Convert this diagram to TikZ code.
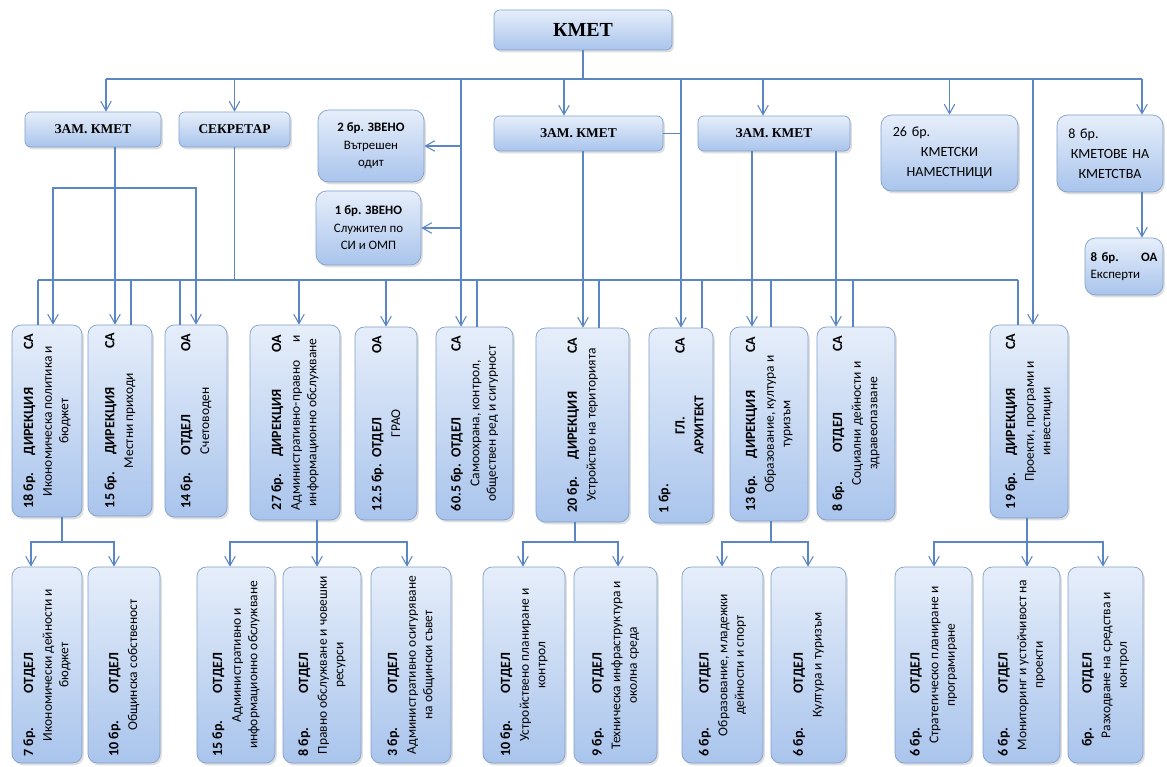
\documentclass[tikz,border=0pt]{standalone}
\usepackage{fontspec}
\usepackage{graphicx}
\setmainfont{Carlito}
\newfontfamily\hdfont{Liberation Serif}
\usetikzlibrary{arrows.meta, shadows}

\definecolor{boxtop}{HTML}{E6EEFA}
\definecolor{boxbot}{HTML}{A9C4EC}
\definecolor{boxedge}{HTML}{819FCB}
\definecolor{wireblue}{HTML}{5A86C4}

\newcommand{\rotlab}[3][5.25cm]{%
  \rotatebox{90}{\parbox{#1}{\fontsize{11.5}{14}\selectfont
    {\fontsize{12}{14}\selectfont\bfseries\parfillskip=0pt #2\par}\vspace{2pt}%
    {\centering #3\par}}}}

\tikzset{
  boxsize/.style 2 args={minimum width=#1*0.03cm, minimum height=#2*0.03cm},
  box/.style={draw=boxedge, line width=0.6pt, rounded corners=7pt,
    top color=boxtop, bottom color=boxbot, inner sep=0pt,
    drop shadow={shadow xshift=1.5pt, shadow yshift=-2pt, opacity=0.25}},
  headbox/.style={box, rounded corners=5pt,
    font=\hdfont\bfseries\fontsize{11.5}{14}\selectfont},
  infobox/.style={box, rounded corners=9pt, align=center,
    font=\fontsize{11}{15}\selectfont},
  unitbox/.style={box, rounded corners=8pt},
  wire/.style={draw=wireblue, line width=0.9pt},
  arr/.style={wire, -{Straight Barb[length=8pt,width=9pt]}}
}

\begin{document}
\begin{tikzpicture}[x=0.03cm, y=-0.03cm]
\fill[white] (0,0) rectangle (1167,767);
\useasboundingbox (0,0) rectangle (1167,767);

\node[headbox, boxsize={178}{40}, font=\hdfont\bfseries\fontsize{17}{20}\selectfont] (kmet) at (583,30) {КМЕТ};
\node[headbox, boxsize={136}{35}] (zamA) at (93,129.5) {ЗАМ. КМЕТ};
\node[headbox, boxsize={111}{35}] (sekr) at (234.5,129.5) {СЕКРЕТАР};
\node[headbox, boxsize={169}{35}] (zamB) at (578.5,133.5) {ЗАМ. КМЕТ};
\node[headbox, boxsize={152}{35}] (zamC) at (774,133.5) {ЗАМ. КМЕТ};

\node[infobox, boxsize={106}{72}] (zveno2) at (371,146) {\textbf{2 бр. ЗВЕНО}\\Вътрешен\\одит};
\node[infobox, boxsize={105}{74}] (zveno1) at (368.5,228) {\textbf{1 бр. ЗВЕНО}\\Служител по\\СИ и ОМП};
\node[infobox, boxsize={137}{76}, font=\fontsize{12}{17}\selectfont, text width=3.4cm] (namest) at (949.5,153)
  {\makebox[3.4cm][l]{26 бр.}\\КМЕТСКИ\\НАМЕСТНИЦИ};
\node[infobox, boxsize={106}{77}, font=\fontsize{12}{17}\selectfont, text width=2.5cm] (kmetove) at (1110,153.5)
  {\makebox[2.5cm][l]{8 бр.}\\КМЕТОВЕ НА\\КМЕТСТВА};
\node[infobox, boxsize={78}{57}, align=left, text width=2cm] (eksp) at (1124,266.5)
  {\makebox[2cm][l]{\textbf{8 бр.}\hfill\textbf{ОА}}\\Експерти};

\node[unitbox, boxsize={70}{192}] (dir18) at (47,421)
  {\rotlab{\makebox[1.6cm][l]{18 бр.}ДИРЕКЦИЯ\hfill СА}{Икономическа политика и\\бюджет}};
\node[unitbox, boxsize={64}{191}] (dir15) at (120,420.5)
  {\rotlab{\makebox[1.6cm][l]{15 бр.}ДИРЕКЦИЯ\hfill СА}{Местни приходи}};
\node[unitbox, boxsize={62}{192}] (otd14) at (196,421)
  {\rotlab{\makebox[1.6cm][l]{14 бр.}ОТДЕЛ\hfill ОА}{Счетоводен}};
\node[unitbox, boxsize={90}{195}] (dir27) at (295,422.5)
  {\rotlab{\makebox[1.6cm][l]{27 бр.}ДИРЕКЦИЯ\hfill ОА}{\makebox[\hsize]{Административно-правно\hfill и}\\информационно обслужване}};
\node[unitbox, boxsize={62}{193}] (otd125) at (386,423.5)
  {\rotlab{\makebox[1.6cm][l]{12.5 бр.}ОТДЕЛ\hfill ОА}{ГРАО}};
\node[unitbox, boxsize={77}{193}] (otd605) at (474.5,423.5)
  {\rotlab{\makebox[1.6cm][l]{60.5 бр.}ОТДЕЛ\hfill СА}{Самоохрана, контрол,\\обществен ред и сигурност}};
\node[unitbox, boxsize={93}{194}] (dir20) at (582.5,425)
  {\rotlab{\makebox[1.6cm][l]{20 бр.}ДИРЕКЦИЯ\hfill СА}{Устройство на територията}};
\node[unitbox, boxsize={64}{195}] (arh) at (681,425.5)
  {\rotlab{\rlap{1 бр.}\hfill ГЛ.\hfill\llap{СА}}{\textbf{АРХИТЕКТ}}};
\node[unitbox, boxsize={78}{194}] (dir13) at (769,424)
  {\rotlab{\makebox[1.6cm][l]{13 бр.}ДИРЕКЦИЯ\hfill СА}{Образование, култура и\\туризъм}};
\node[unitbox, boxsize={78}{193}] (otd8) at (856,423.5)
  {\rotlab{\makebox[1.75cm][l]{8 бр.}ОТДЕЛ\hfill СА}{Социални дейности и\\здравеопазване}};
\node[unitbox, boxsize={78}{193}] (dir19) at (1029,421.5)
  {\rotlab{\makebox[1.6cm][l]{19 бр.}ДИРЕКЦИЯ\hfill СА}{Проекти, програми и\\инвестиции}};

\node[unitbox, boxsize={70}{196}] (bot1) at (47,665)
  {\rotlab[5.5cm]{\makebox[1.9cm][l]{7 бр.}ОТДЕЛ\hfill}{Икономически дейности и\\бюджет}};
\node[unitbox, boxsize={72}{196}] (bot2) at (124,665)
  {\rotlab[5.5cm]{\makebox[1.9cm][l]{10 бр.}ОТДЕЛ\hfill}{Общинска собственост}};
\node[unitbox, boxsize={78}{196}] (bot3) at (236,665)
  {\rotlab[5.5cm]{\makebox[1.9cm][l]{15 бр.}ОТДЕЛ\hfill}{Административно и\\информационно обслужване}};
\node[unitbox, boxsize={78}{196}] (bot4) at (322,665)
  {\rotlab[5.5cm]{\makebox[1.9cm][l]{8 бр.}ОТДЕЛ\hfill}{Правно обслужване и човешки\\ресурси}};
\node[unitbox, boxsize={80}{196}] (bot5) at (411,665)
  {\rotlab[5.5cm]{\makebox[1.9cm][l]{3 бр.}ОТДЕЛ\hfill}{Административно осигуряване\\на общински съвет}};
\node[unitbox, boxsize={82}{196}] (bot6) at (524,665)
  {\rotlab[5.5cm]{\makebox[1.9cm][l]{10 бр.}ОТДЕЛ\hfill}{Устройствено планиране и\\контрол}};
\node[unitbox, boxsize={83}{196}] (bot7) at (615.5,665)
  {\rotlab[5.5cm]{\makebox[1.9cm][l]{9 бр.}ОТДЕЛ\hfill}{Техническа инфраструктура и\\околна среда}};
\node[unitbox, boxsize={81}{196}] (bot8) at (722.5,665)
  {\rotlab[5.5cm]{\makebox[1.9cm][l]{6 бр.}ОТДЕЛ\hfill}{Образование, младежки\\дейности и спорт}};
\node[unitbox, boxsize={75}{196}] (bot9) at (808.5,665)
  {\rotlab[5.5cm]{\makebox[1.9cm][l]{6 бр.}ОТДЕЛ\hfill}{Култура и туризъм}};
\node[unitbox, boxsize={77}{196}] (bot10) at (933.5,665)
  {\rotlab[5.5cm]{\makebox[1.9cm][l]{6 бр.}ОТДЕЛ\hfill}{Стратегическо планиране и\\програмиране}};
\node[unitbox, boxsize={77}{196}] (bot11) at (1021.5,665)
  {\rotlab[5.5cm]{\makebox[1.9cm][l]{6 бр.}ОТДЕЛ\hfill}{Мониторинг и устойчивост на\\проекти}};
\node[unitbox, boxsize={75}{196}] (bot12) at (1105.5,665)
  {\rotlab[5.5cm]{\makebox[1.9cm][l]{\hspace{0.3cm}бр.}ОТДЕЛ\hfill}{Разходване на средства и\\контрол}};

\coordinate (tl) at (106,79);
\coordinate (tr) at (1142,79);
\coordinate (tc) at (461,79);
\coordinate (td) at (564,79);
\coordinate (tf) at (763,79);
\coordinate (th) at (1033,79);
\draw[wire] (kmet.south) -- (kmet.south |- tl);
\draw[wire] (tl) -- (tr);
\draw[arr] (tl) -- (tl |- zamA.north);
\draw[arr] (sekr.north |- tl) -- (sekr.north);
\draw[arr] (tc) -- (tc |- otd605.north);
\draw[arr] (tc |- zveno2.east) -- (zveno2.east);
\draw[arr] (tc |- zveno1.east) -- (zveno1.east);
\draw[arr] (td) -- (td |- zamB.north);
\draw[arr] (arh.north |- tl) -- (arh.north);
\draw[wire] (zamB.east) -- (zamB.east -| arh.north);
\draw[arr] (tf) -- (tf |- zamC.north);
\draw[arr] (namest.north |- tl) -- (namest.north);
\draw[arr] (th) -- (th |- dir19.north);
\draw[arr] (tr) -- (tr |- kmetove.north);
\draw[arr] (tr |- kmetove.south) -- (tr |- eksp.north);

\coordinate (za) at (115,188);
\draw[arr] (za |- zamA.south) -- (za |- dir15.north);
\draw[arr] (za) -| (53,0 |- dir18.north);
\draw[arr] (za) -| (196,0 |- otd14.north);

\coordinate (sl) at (38,280);
\coordinate (sr) at (1018,280);
\draw[wire] (sekr.south) -- (sekr.south |- sl);
\draw[wire] (sl) -- (sr);
\draw[wire] (sl) -- (sl |- dir18.north);
\draw[wire] (131,0 |- sl) -- (131,0 |- dir15.north);
\draw[wire] (180,0 |- sl) -- (180,0 |- otd14.north);
\draw[arr] (299,0 |- sl) -- (299,0 |- dir27.north);
\draw[arr] (otd125.north |- sl) -- (otd125.north);
\draw[wire] (477,0 |- sl) -- (477,0 |- otd605.north);
\draw[wire] (599,0 |- sl) -- (599,0 |- dir20.north);
\draw[wire] (702,0 |- sl) -- (702,0 |- arh.north);
\draw[wire] (771,0 |- sl) -- (771,0 |- dir13.north);
\draw[wire] (853,0 |- sl) -- (853,0 |- otd8.north);
\draw[wire] (sr) -- (sr |- dir19.north);

\draw[arr] (583,0 |- zamB.south) -- (583,0 |- dir20.north);
\draw[arr] (752,0 |- zamC.south) -- (752,0 |- dir13.north);
\draw[arr] (836,0 |- zamC.south) -- (836,0 |- otd8.north);

\coordinate (j1) at (62,542);
\draw[wire] (j1 |- dir18.south) -- (j1);
\draw[arr] (j1) -| (31,0 |- bot1.north);
\draw[arr] (j1) -| (114,0 |- bot2.north);
\coordinate (j2) at (317,542);
\draw[arr] (j2 |- dir27.south) -- (j2 |- bot4.north);
\draw[arr] (j2) -| (230,0 |- bot3.north);
\draw[arr] (j2) -| (407,0 |- bot5.north);
\coordinate (j3) at (575,542);
\draw[wire] (j3 |- dir20.south) -- (j3);
\draw[arr] (j3) -| (523,0 |- bot6.north);
\draw[arr] (j3) -| (618,0 |- bot7.north);
\coordinate (j4) at (771,542);
\draw[wire] (j4 |- dir13.south) -- (j4);
\draw[arr] (j4) -| (722,0 |- bot8.north);
\draw[arr] (j4) -| (808,0 |- bot9.north);
\coordinate (j5) at (1027,542);
\draw[arr] (j5 |- dir19.south) -- (j5 |- bot11.north);
\draw[arr] (j5) -| (934,0 |- bot10.north);
\draw[arr] (j5) -| (1103,0 |- bot12.north);
\end{tikzpicture}
\end{document}
